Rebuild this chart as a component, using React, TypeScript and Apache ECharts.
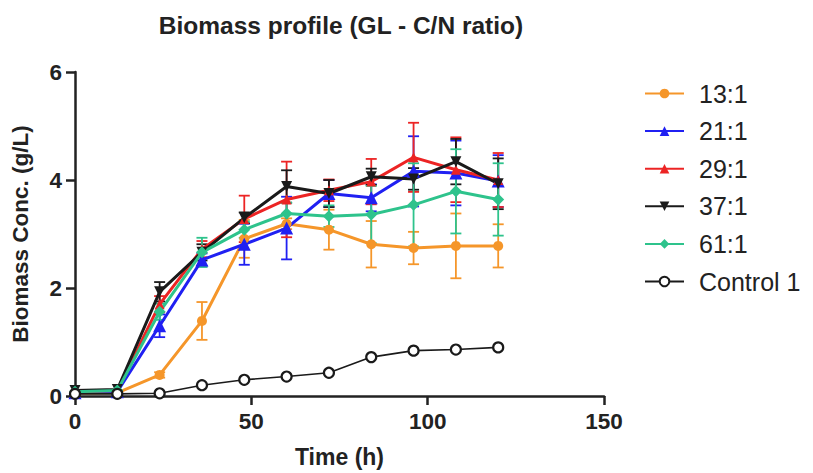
import React, { useEffect, useRef } from "react";
import * as echarts from "echarts";

// Sampling times (h)
const times = [0, 12, 24, 36, 48, 60, 72, 84, 96, 108, 120];

// Biomass concentration (g/L) per C/N ratio, mean values
const cn13 = [0.05, 0.06, 0.39, 1.39, 2.91, 3.19, 3.08, 2.81, 2.74, 2.78, 2.78];
const cn21 = [0.06, 0.08, 1.3, 2.52, 2.81, 3.11, 3.75, 3.67, 4.16, 4.13, 3.98];
const cn29 = [0.08, 0.1, 1.7, 2.72, 3.28, 3.64, 3.81, 3.97, 4.42, 4.19, 4.0];
const cn37 = [0.1, 0.12, 1.93, 2.66, 3.3, 3.88, 3.75, 4.06, 4.02, 4.34, 3.93];
const cn61 = [0.08, 0.1, 1.56, 2.66, 3.08, 3.38, 3.33, 3.36, 3.54, 3.79, 3.64];
const control1 = [0.04, 0.04, 0.05, 0.2, 0.3, 0.36, 0.43, 0.72, 0.84, 0.86, 0.9];

// Standard deviations
const sd13 = [0, 0, 0.05, 0.35, 0.35, 0.1, 0.37, 0.43, 0.3, 0.6, 0.4];
const sd21 = [0, 0, 0.21, 0.12, 0.38, 0.58, 0.25, 0.25, 0.65, 0.6, 0.48];
const sd29 = [0, 0, 0.15, 0.15, 0.43, 0.7, 0.2, 0.42, 0.64, 0.6, 0.5];
const sd37 = [0, 0, 0.18, 0.15, 0.1, 0.3, 0.25, 0.15, 0.2, 0.42, 0.47];
const sd61 = [0, 0, 0.15, 0.27, 0.15, 0.2, 0.2, 0.53, 0.77, 0.78, 0.67];

const seriesNames = ["13:1", "21:1", "29:1", "37:1", "61:1", "Control 1"];
const xTicks = { min: 0, max: 150, interval: 50 };
const yTicks = { min: 0, max: 6, interval: 2 };

const FONT = "'Liberation Sans', Arial, sans-serif";
const INK = "#222222";

const pairs = (vals: number[]) => times.map((t, i) => [t, vals[i]]);
const errPairs = (vals: number[], sd: number[]) =>
  times
    .map((t, i) => [t, vals[i] - sd[i], vals[i] + sd[i]])
    .filter((_, i) => sd[i] > 0);

const errorBars = (name: string, vals: number[], sd: number[], color: string) => ({
  type: "custom",
  name: name + " SD",
  data: errPairs(vals, sd),
  encode: { x: 0, y: [1, 2] },
  z: 2,
  silent: true,
  renderItem: (_params: any, api: any) => {
    const x = api.value(0);
    const top = api.coord([x, api.value(2)]);
    const bot = api.coord([x, api.value(1)]);
    const w = 5.5;
    const style = { stroke: color, lineWidth: 1.8 };
    return {
      type: "group",
      children: [
        { type: "line", shape: { x1: top[0], y1: top[1], x2: bot[0], y2: bot[1] }, style },
        { type: "line", shape: { x1: top[0] - w, y1: top[1], x2: top[0] + w, y2: top[1] }, style },
        { type: "line", shape: { x1: bot[0] - w, y1: bot[1], x2: bot[0] + w, y2: bot[1] }, style },
      ],
    };
  },
});

const lineSeries = (
  name: string,
  vals: number[],
  color: string,
  symbol: string,
  size: number,
  rotate = 0
) => ({
  type: "line",
  name,
  data: pairs(vals),
  symbol,
  symbolSize: size,
  symbolRotate: rotate,
  showAllSymbol: true,
  z: 3,
  lineStyle: { color, width: 3 },
  itemStyle: { color, borderColor: color, borderWidth: 0 },
});

export default function App() {
  const ref = useRef<HTMLDivElement>(null);

  useEffect(() => {
    if (!ref.current) return;
    const chart = echarts.init(ref.current, undefined, { renderer: "svg" });

    const orange = "#F5962A";
    const blue = "#2020F2";
    const red = "#EC2424";
    const black = "#1A1A1A";
    const green = "#2EC38C";

    chart.setOption({
      animation: false,
      backgroundColor: "#ffffff",
      title: {
        text: "Biomass profile (GL - C/N ratio)",
        left: 336,
        textAlign: "center",
        top: 8,
        textStyle: { fontFamily: FONT, fontSize: 24.5, fontWeight: "bold", color: INK },
      },
      legend: {
        orient: "vertical",
        left: 639,
        top: 76,
        itemWidth: 39,
        itemHeight: 12,
        itemGap: 12.6,
        data: seriesNames,
        textStyle: {
          fontFamily: FONT,
          fontSize: 25,
          lineHeight: 25,
          color: INK,
          padding: [0, 0, 0, 10],
        },
      },
      grid: { left: 75, right: 209, top: 72, bottom: 76 },
      xAxis: {
        type: "value",
        ...xTicks,
        name: "Time (h)",
        nameLocation: "middle",
        nameGap: 49,
        nameTextStyle: { fontFamily: FONT, fontSize: 23, fontWeight: "bold", color: INK },
        axisLine: { lineStyle: { color: INK, width: 2.5 } },
        axisTick: { length: 9, lineStyle: { color: INK, width: 2.5 } },
        axisLabel: { margin: 14, fontFamily: FONT, fontSize: 22.5, fontWeight: "bold", color: INK },
        splitLine: { show: false },
      },
      yAxis: {
        type: "value",
        ...yTicks,
        name: "Biomass Conc. (g/L)",
        nameLocation: "middle",
        nameGap: 43,
        nameTextStyle: { fontFamily: FONT, fontSize: 22.5, fontWeight: "bold", color: INK },
        axisLine: { show: true, lineStyle: { color: INK, width: 2.5 } },
        axisTick: { show: true, length: 9, lineStyle: { color: INK, width: 2.5 } },
        axisLabel: { margin: 13, fontFamily: FONT, fontSize: 22.5, fontWeight: "bold", color: INK },
        splitLine: { show: false },
      },
      series: [
        errorBars("13:1", cn13, sd13, orange),
        errorBars("21:1", cn21, sd21, blue),
        errorBars("29:1", cn29, sd29, red),
        errorBars("37:1", cn37, sd37, black),
        errorBars("61:1", cn61, sd61, green),
        lineSeries("13:1", cn13, orange, "circle", 10),
        lineSeries("21:1", cn21, blue, "triangle", 13),
        lineSeries("29:1", cn29, red, "triangle", 10),
        lineSeries("37:1", cn37, black, "triangle", 11, 180),
        lineSeries("61:1", cn61, green, "diamond", 12),
        {
          type: "line",
          name: "Control 1",
          data: pairs(control1),
          symbol: "circle",
          symbolSize: 10,
          showAllSymbol: true,
          z: 4,
          lineStyle: { color: black, width: 1.6 },
          itemStyle: { color: "#ffffff", borderColor: black, borderWidth: 2.2 },
        },
      ],
    });

    return () => chart.dispose();
  }, []);

  return (
    <div
      ref={ref}
      style={{ position: "absolute", left: 0, top: 0, width: 813, height: 473 }}
    />
  );
}
